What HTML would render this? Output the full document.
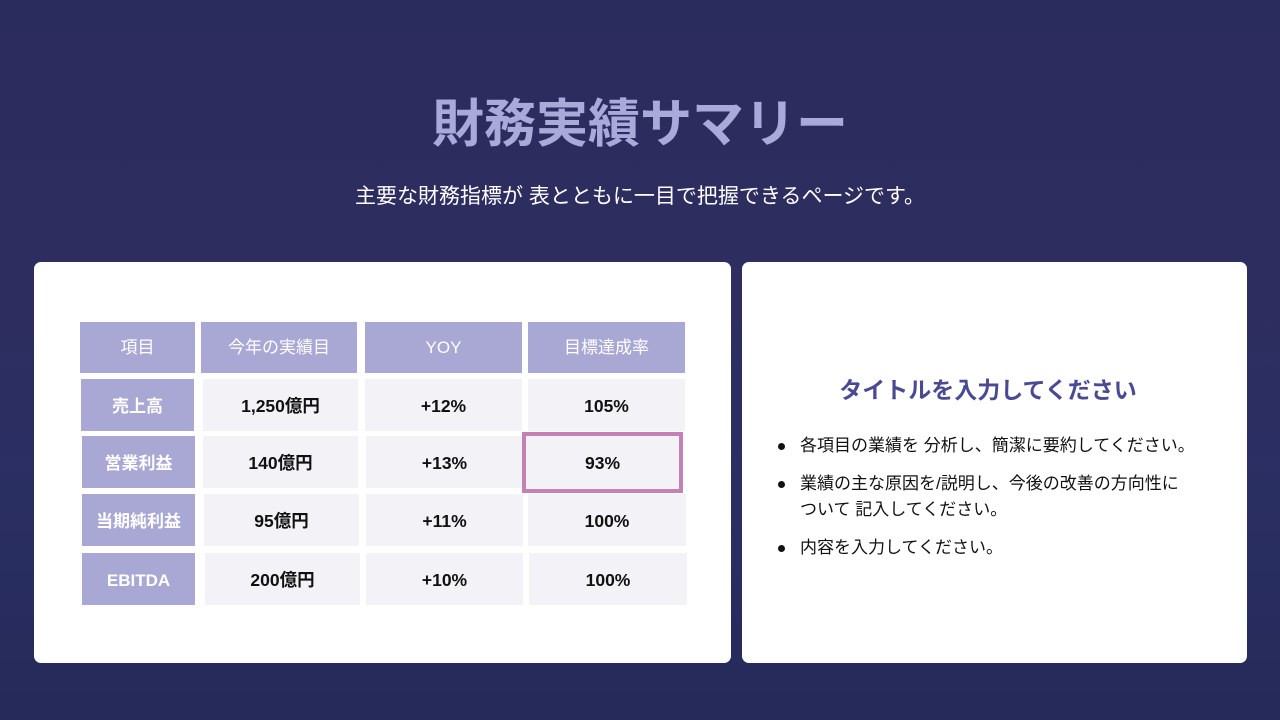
<!DOCTYPE html>
<html><head><meta charset="utf-8"><style>
*{margin:0;padding:0;box-sizing:border-box}
body{width:1280px;height:720px;overflow:hidden;position:relative;font-family:"Liberation Sans","Noto Sans CJK JP",sans-serif;background:linear-gradient(180deg,#2b2c5e 0%,#2e2d60 40%,#2a2f62 70%,#252a5a 100%)}
.a{position:absolute}
h1{position:absolute;left:0;width:1280px;top:92px;text-align:center;font-size:52px;font-weight:bold;color:#a9a9da;line-height:66px}
.sub{left:0;width:1280px;top:183px;text-align:center;color:#fff;font-size:21px;line-height:28px}
.card{background:#fff;border-radius:7px}
.c{position:absolute;text-align:center;font-size:17.5px;font-weight:bold;color:#111;line-height:55px}
.h{background:#a9a7d4;color:#fff;font-weight:normal;font-size:17px;line-height:51px}
.hl{background:#a9a7d4;color:#fff;font-size:17px}
.d{background:#f3f3f7}
.t{left:742px;width:492px;top:375px;text-align:center;color:#4a4a94;font-size:23px;font-weight:bold;line-height:30px}
.li{position:absolute;left:800px;font-size:17px;color:#111;line-height:26px;white-space:nowrap}
.dot{position:absolute;left:778px;width:7px;height:7px;border-radius:50%;background:#111}
</style></head><body>
<h1>財務実績サマリー</h1>
<div class="a sub">主要な財務指標が 表とともに一目で把握できるページです。</div>
<div class="a card" style="left:34px;top:262px;width:697px;height:401px"></div>
<div class="a card" style="left:742px;top:262px;width:505px;height:401px"></div>

<div class="c h" style="left:80px;top:322px;width:115px;height:51px">項目</div>
<div class="c h" style="left:201px;top:322px;width:156px;height:51px">今年の実績目</div>
<div class="c h" style="left:365px;top:322px;width:157px;height:51px">YOY</div>
<div class="c h" style="left:528px;top:322px;width:157px;height:51px">目標達成率</div>

<div class="c hl" style="left:81px;top:379px;width:113px;height:52px">売上高</div>
<div class="c d" style="left:203px;top:379px;width:155px;height:52px">1,250億円</div>
<div class="c d" style="left:365px;top:379px;width:157px;height:52px">+12%</div>
<div class="c d" style="left:528px;top:379px;width:157px;height:52px">105%</div>

<div class="c hl" style="left:82px;top:436px;width:113px;height:52px">営業利益</div>
<div class="c d" style="left:203px;top:436px;width:155px;height:52px">140億円</div>
<div class="c d" style="left:366px;top:436px;width:157px;height:52px">+13%</div>
<div class="c d" style="left:522px;top:432px;width:161px;height:61px;border:4px solid #c482b4;line-height:55px">93%</div>

<div class="c hl" style="left:82px;top:494px;width:113px;height:52px">当期純利益</div>
<div class="c d" style="left:204px;top:494px;width:155px;height:52px">95億円</div>
<div class="c d" style="left:366px;top:494px;width:157px;height:52px">+11%</div>
<div class="c d" style="left:528px;top:494px;width:158px;height:52px">100%</div>

<div class="c hl" style="left:82px;top:553px;width:113px;height:52px">EBITDA</div>
<div class="c d" style="left:205px;top:553px;width:155px;height:52px">200億円</div>
<div class="c d" style="left:366px;top:553px;width:157px;height:52px">+10%</div>
<div class="c d" style="left:529px;top:553px;width:158px;height:52px">100%</div>

<div class="a t">タイトルを入力してください</div>
<div class="dot" style="top:443px"></div><div class="li" style="top:433px">各項目の業績を 分析し、簡潔に要約してください。</div>
<div class="dot" style="top:481px"></div><div class="li" style="top:471px">業績の主な原因を/説明し、今後の改善の方向性に<br>ついて 記入してください。</div>
<div class="dot" style="top:545px"></div><div class="li" style="top:535px">内容を入力してください。</div>
</body></html>
